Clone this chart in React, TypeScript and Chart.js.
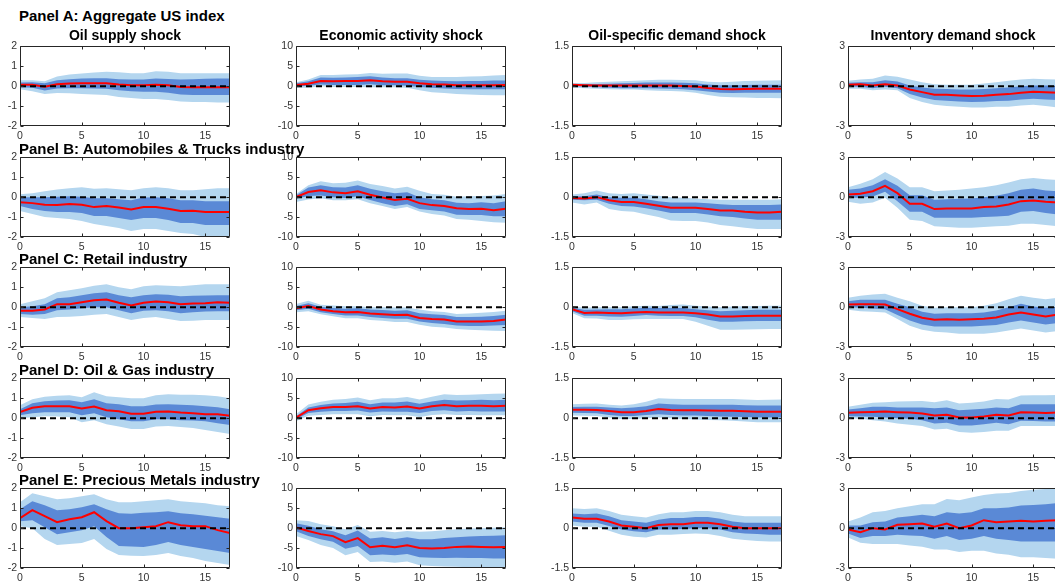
import React, { useEffect, useRef } from 'react';
import { Chart, registerables } from 'chart.js';

Chart.register(...registerables);

// ---------- labels and axes ----------
const panelTitles = [
  'Panel A: Aggregate US index',
  'Panel B: Automobiles & Trucks industry',
  'Panel C: Retail industry',
  'Panel D: Oil & Gas industry',
  'Panel E: Precious Metals industry',
];
const shockTitles = [
  'Oil supply shock',
  'Economic activity shock',
  'Oil-specific demand shock',
  'Inventory demand shock',
];
const horizons = [0, 1, 2, 3, 4, 5, 6, 7, 8, 9, 10, 11, 12, 13, 14, 15, 16, 17];
const xTicks = [0, 5, 10, 15];
const yLimits = [2, 10, 1.5, 3];
const yTicks = [
  [-2, -1, 0, 1, 2],
  [-10, -5, 0, 5, 10],
  [-1.5, 0, 1.5],
  [-3, 0, 3],
];

// ---------- Panel A: Aggregate US index ----------
const A1_mid = [0.07, 0.07, -0.03, 0.1, 0.13, 0.14, 0.15, 0.15, 0.08, 0.05, 0.05, 0.07, 0.04, -0.04, -0.05, -0.05, -0.05, -0.05];
const A1_innerHi = [0.18, 0.2, 0.15, 0.3, 0.35, 0.38, 0.4, 0.4, 0.35, 0.33, 0.33, 0.38, 0.36, 0.33, 0.35, 0.37, 0.38, 0.38];
const A1_innerLo = [-0.05, -0.08, -0.22, -0.12, -0.1, -0.11, -0.12, -0.13, -0.2, -0.25, -0.28, -0.28, -0.33, -0.42, -0.44, -0.45, -0.45, -0.45];
const A1_outerHi = [0.3, 0.3, 0.25, 0.48, 0.58, 0.63, 0.68, 0.72, 0.7, 0.65, 0.65, 0.75, 0.72, 0.65, 0.65, 0.65, 0.65, 0.65];
const A1_outerLo = [-0.15, -0.25, -0.4, -0.35, -0.36, -0.4, -0.42, -0.45, -0.55, -0.6, -0.65, -0.65, -0.7, -0.77, -0.8, -0.8, -0.82, -0.82];

const A2_mid = [0.3, 0.6, 1.3, 1.2, 1.3, 1.3, 1.5, 1.2, 1.1, 1.1, 0.7, 0.5, 0.4, 0.2, 0.2, 0.2, 0.2, 0.3];
const A2_innerHi = [0.7, 1.2, 2.2, 2.1, 2.2, 2.3, 2.5, 2.2, 2.0, 2.0, 1.6, 1.4, 1.3, 1.2, 1.3, 1.3, 1.4, 1.4];
const A2_innerLo = [-0.1, 0.1, 0.4, 0.3, 0.3, 0.3, 0.5, 0.2, 0.2, 0.1, -0.2, -0.4, -0.6, -0.7, -0.8, -0.8, -0.8, -0.8];
const A2_outerHi = [1.0, 1.7, 2.8, 2.8, 2.9, 3.0, 3.3, 3.1, 3.2, 3.2, 2.6, 2.3, 2.3, 2.3, 2.4, 2.5, 2.7, 2.8];
const A2_outerLo = [-0.4, -0.4, 0.0, -0.2, -0.2, -0.2, -0.3, -0.3, -0.3, -0.4, -1.0, -1.5, -1.7, -2.0, -2.1, -2.2, -2.3, -2.3];

const A3_mid = [0.05, 0.03, 0.02, 0.02, 0.02, 0.02, 0.02, 0.02, 0.02, 0.01, -0.01, -0.07, -0.11, -0.12, -0.11, -0.1, -0.1, -0.1];
const A3_innerHi = [0.08, 0.07, 0.08, 0.09, 0.11, 0.12, 0.14, 0.14, 0.14, 0.13, 0.11, 0.06, 0.03, 0.03, 0.04, 0.05, 0.05, 0.05];
const A3_innerLo = [0.0, -0.02, -0.04, -0.06, -0.08, -0.08, -0.08, -0.09, -0.1, -0.12, -0.15, -0.2, -0.25, -0.26, -0.25, -0.25, -0.25, -0.25];
const A3_outerHi = [0.12, 0.12, 0.15, 0.17, 0.18, 0.2, 0.22, 0.24, 0.24, 0.23, 0.22, 0.17, 0.15, 0.17, 0.19, 0.2, 0.21, 0.22];
const A3_outerLo = [-0.05, -0.08, -0.1, -0.12, -0.13, -0.13, -0.15, -0.17, -0.18, -0.2, -0.25, -0.33, -0.4, -0.42, -0.43, -0.45, -0.45, -0.46];

const A4_mid = [0.1, 0.15, 0.05, 0.15, 0.05, -0.25, -0.45, -0.65, -0.65, -0.7, -0.75, -0.72, -0.65, -0.6, -0.5, -0.42, -0.45, -0.5];
const A4_innerHi = [0.25, 0.3, 0.3, 0.45, 0.35, 0.05, -0.1, -0.2, -0.22, -0.25, -0.25, -0.22, -0.15, -0.1, 0.0, 0.05, 0.05, 0.05];
const A4_innerLo = [-0.05, -0.05, -0.15, -0.05, -0.15, -0.6, -0.85, -1.05, -1.1, -1.15, -1.2, -1.18, -1.12, -1.1, -1.0, -0.95, -1.0, -1.05];
const A4_outerHi = [0.4, 0.5, 0.55, 0.8, 0.7, 0.5, 0.3, 0.15, 0.1, 0.1, 0.1, 0.2, 0.3, 0.4, 0.5, 0.55, 0.52, 0.5];
const A4_outerLo = [-0.2, -0.2, -0.3, -0.25, -0.3, -0.9, -1.2, -1.4, -1.5, -1.55, -1.6, -1.6, -1.55, -1.55, -1.45, -1.4, -1.5, -1.6];

// ---------- Panel B: Automobiles & Trucks industry ----------
const B1_mid = [-0.25, -0.3, -0.38, -0.4, -0.35, -0.38, -0.5, -0.45, -0.52, -0.62, -0.5, -0.5, -0.58, -0.7, -0.68, -0.75, -0.75, -0.75];
const B1_innerHi = [0.0, 0.0, 0.0, 0.02, 0.05, 0.02, -0.05, -0.05, -0.1, -0.15, -0.02, 0.0, -0.05, -0.15, -0.15, -0.2, -0.2, -0.2];
const B1_innerLo = [-0.45, -0.6, -0.7, -0.75, -0.75, -0.8, -0.95, -0.95, -1.05, -1.15, -1.05, -1.05, -1.15, -1.3, -1.3, -1.4, -1.4, -1.4];
const B1_outerHi = [0.15, 0.2, 0.3, 0.38, 0.45, 0.5, 0.42, 0.45, 0.4, 0.35, 0.45, 0.5, 0.45, 0.35, 0.35, 0.4, 0.45, 0.45];
const B1_outerLo = [-0.7, -0.85, -1.0, -1.05, -1.1, -1.2, -1.35, -1.45, -1.55, -1.7, -1.6, -1.6, -1.7, -1.8, -1.85, -2.0, -2.0, -2.0];

const B2_mid = [0.0, 1.3, 1.7, 1.2, 1.0, 1.5, 0.6, -0.1, -0.7, -0.4, -1.5, -2.0, -2.2, -2.8, -3.0, -2.9, -3.3, -2.9];
const B2_innerHi = [0.5, 2.4, 3.0, 2.5, 2.4, 3.0, 2.1, 1.5, 1.0, 1.2, 0.0, -0.5, -0.8, -1.4, -1.5, -1.3, -1.5, -1.0];
const B2_innerLo = [-0.4, 0.3, 0.4, 0.0, -0.2, 0.2, -0.7, -1.5, -2.2, -1.8, -3.0, -3.3, -3.6, -4.4, -4.5, -4.5, -4.8, -4.8];
const B2_outerHi = [0.8, 3.0, 4.0, 3.5, 3.6, 4.2, 3.3, 2.8, 2.2, 2.6, 1.6, 0.8, 0.6, 0.1, 0.2, 0.3, 0.4, 0.8];
const B2_outerLo = [-1.2, -0.6, -0.3, -0.8, -0.8, -0.5, -1.5, -2.2, -3.0, -2.5, -3.6, -4.2, -4.6, -5.5, -5.7, -6.0, -6.3, -6.4];

const B3_mid = [-0.03, -0.05, 0.0, -0.12, -0.18, -0.18, -0.25, -0.32, -0.4, -0.4, -0.4, -0.45, -0.5, -0.5, -0.55, -0.58, -0.58, -0.55];
const B3_innerHi = [0.03, 0.03, 0.1, 0.0, -0.02, -0.02, -0.08, -0.15, -0.2, -0.2, -0.2, -0.23, -0.27, -0.3, -0.3, -0.3, -0.3, -0.28];
const B3_innerLo = [-0.1, -0.12, -0.1, -0.25, -0.33, -0.35, -0.42, -0.5, -0.6, -0.6, -0.6, -0.65, -0.72, -0.75, -0.8, -0.85, -0.85, -0.85];
const B3_outerHi = [0.1, 0.15, 0.25, 0.15, 0.12, 0.15, 0.1, 0.05, 0.0, -0.02, -0.05, -0.08, -0.1, -0.1, -0.1, -0.1, -0.1, -0.08];
const B3_outerLo = [-0.2, -0.28, -0.2, -0.45, -0.52, -0.55, -0.65, -0.75, -0.88, -0.9, -0.9, -0.95, -1.05, -1.1, -1.15, -1.2, -1.2, -1.2];

const B4_mid = [0.2, 0.25, 0.45, 0.85, 0.3, -0.5, -0.5, -0.9, -0.85, -0.85, -0.85, -0.75, -0.7, -0.55, -0.3, -0.25, -0.35, -0.4];
const B4_innerHi = [0.55, 0.65, 0.9, 1.35, 0.85, 0.15, 0.15, -0.2, -0.15, -0.12, -0.1, 0.0, 0.1, 0.3, 0.55, 0.65, 0.5, 0.45];
const B4_innerLo = [-0.05, -0.05, 0.05, 0.4, -0.3, -1.1, -1.1, -1.55, -1.55, -1.55, -1.55, -1.5, -1.45, -1.4, -1.1, -1.05, -1.2, -1.3];
const B4_outerHi = [0.75, 1.0, 1.35, 1.9, 1.4, 0.75, 0.75, 0.45, 0.5, 0.55, 0.65, 0.75, 0.9, 1.1, 1.35, 1.45, 1.35, 1.3];
const B4_outerLo = [-0.35, -0.5, -0.4, -0.05, -0.8, -1.7, -1.8, -2.2, -2.25, -2.3, -2.3, -2.25, -2.2, -2.15, -2.0, -2.0, -2.1, -2.2];

// ---------- Panel C: Retail industry ----------
const C1_mid = [-0.18, -0.18, -0.12, 0.15, 0.15, 0.25, 0.35, 0.38, 0.22, 0.08, 0.22, 0.28, 0.25, 0.15, 0.18, 0.2, 0.25, 0.22];
const C1_innerHi = [0.0, 0.05, 0.15, 0.45, 0.5, 0.6, 0.7, 0.75, 0.6, 0.5, 0.6, 0.65, 0.62, 0.55, 0.57, 0.58, 0.6, 0.6];
const C1_innerLo = [-0.35, -0.38, -0.35, -0.15, -0.12, -0.05, 0.0, 0.0, -0.15, -0.3, -0.18, -0.15, -0.2, -0.3, -0.25, -0.22, -0.2, -0.2];
const C1_outerHi = [0.15, 0.3, 0.45, 0.75, 0.85, 0.95, 1.08, 1.15, 1.0, 0.9, 1.05, 1.1, 1.08, 1.05, 1.1, 1.15, 1.15, 1.15];
const C1_outerLo = [-0.5, -0.55, -0.6, -0.5, -0.48, -0.45, -0.38, -0.35, -0.5, -0.65, -0.55, -0.5, -0.6, -0.7, -0.68, -0.65, -0.65, -0.65];

const C2_mid = [-0.3, 0.3, -0.6, -1.0, -1.3, -1.2, -1.6, -1.8, -2.0, -1.9, -2.7, -3.0, -3.1, -3.6, -3.6, -3.6, -3.5, -3.1];
const C2_innerHi = [0.3, 1.0, 0.1, -0.2, -0.4, -0.3, -0.6, -0.7, -0.9, -0.8, -1.5, -1.8, -2.0, -2.5, -2.5, -2.4, -2.2, -1.9];
const C2_innerLo = [-0.8, -0.4, -1.3, -1.7, -2.1, -2.1, -2.5, -2.7, -2.9, -2.9, -3.6, -4.0, -4.2, -4.6, -4.7, -4.7, -4.6, -4.5];
const C2_outerHi = [0.8, 1.6, 0.6, 0.4, 0.2, 0.2, 0.0, 0.0, -0.1, -0.1, -0.6, -1.0, -1.2, -1.7, -1.6, -1.4, -1.2, -0.9];
const C2_outerLo = [-1.3, -1.0, -1.8, -2.3, -2.8, -2.8, -3.2, -3.4, -3.7, -3.7, -4.4, -4.9, -5.1, -5.5, -5.7, -5.8, -5.9, -6.0];

const C3_mid = [-0.08, -0.22, -0.2, -0.22, -0.23, -0.2, -0.18, -0.2, -0.2, -0.2, -0.23, -0.28, -0.35, -0.35, -0.33, -0.32, -0.32, -0.32];
const C3_innerHi = [-0.02, -0.1, -0.09, -0.08, -0.08, -0.05, -0.02, -0.03, -0.03, -0.03, -0.08, -0.12, -0.15, -0.14, -0.12, -0.1, -0.1, -0.1];
const C3_innerLo = [-0.15, -0.32, -0.32, -0.35, -0.36, -0.33, -0.3, -0.32, -0.33, -0.33, -0.38, -0.47, -0.55, -0.55, -0.53, -0.52, -0.52, -0.52];
const C3_outerHi = [0.02, -0.02, 0.0, 0.0, 0.0, 0.03, 0.05, 0.04, 0.08, 0.1, 0.05, 0.02, 0.0, 0.02, 0.03, 0.04, 0.05, 0.05];
const C3_outerLo = [-0.22, -0.42, -0.43, -0.48, -0.48, -0.46, -0.45, -0.45, -0.45, -0.45, -0.55, -0.7, -0.85, -0.85, -0.84, -0.83, -0.82, -0.82];

const C4_mid = [0.2, 0.22, 0.22, 0.2, -0.15, -0.5, -0.8, -0.95, -0.92, -0.95, -0.92, -0.88, -0.78, -0.55, -0.4, -0.55, -0.7, -0.55];
const C4_innerHi = [0.45, 0.55, 0.55, 0.55, 0.25, 0.0, -0.35, -0.5, -0.45, -0.45, -0.45, -0.4, -0.25, 0.0, 0.25, 0.05, -0.05, 0.0];
const C4_innerLo = [0.0, -0.05, -0.1, -0.15, -0.6, -1.0, -1.3, -1.45, -1.45, -1.45, -1.45, -1.4, -1.35, -1.15, -1.0, -1.15, -1.3, -1.2];
const C4_outerHi = [0.7, 0.85, 0.95, 1.0, 0.7, 0.45, 0.1, -0.05, 0.0, 0.0, 0.0, 0.1, 0.3, 0.6, 0.85, 0.7, 0.6, 0.7];
const C4_outerLo = [-0.2, -0.3, -0.35, -0.4, -0.9, -1.4, -1.7, -1.85, -1.9, -2.0, -2.0, -2.0, -1.9, -1.75, -1.6, -1.75, -1.9, -1.8];

// ---------- Panel D: Oil & Gas industry ----------
const D1_mid = [0.3, 0.52, 0.6, 0.6, 0.6, 0.48, 0.58, 0.4, 0.35, 0.22, 0.22, 0.32, 0.33, 0.28, 0.25, 0.2, 0.2, 0.12];
const D1_innerHi = [0.45, 0.75, 0.85, 0.88, 0.9, 0.8, 0.95, 0.75, 0.7, 0.6, 0.6, 0.68, 0.7, 0.67, 0.65, 0.6, 0.55, 0.45];
const D1_innerLo = [0.15, 0.25, 0.3, 0.3, 0.3, 0.15, 0.25, 0.05, -0.05, -0.15, -0.15, -0.05, -0.05, -0.1, -0.12, -0.15, -0.25, -0.35];
const D1_outerHi = [0.65, 0.95, 1.08, 1.12, 1.15, 1.05, 1.3, 1.1, 1.05, 1.0, 1.0, 1.15, 1.2, 1.18, 1.17, 1.15, 1.1, 1.0];
const D1_outerLo = [0.0, 0.05, 0.1, 0.08, 0.05, -0.2, -0.1, -0.3, -0.42, -0.55, -0.55, -0.42, -0.4, -0.45, -0.5, -0.6, -0.7, -0.8];

const D2_mid = [0.1, 2.0, 2.5, 2.8, 2.8, 3.0, 2.4, 2.8, 2.7, 2.9, 2.4, 3.0, 3.3, 3.0, 3.1, 3.1, 3.0, 3.1];
const D2_innerHi = [0.5, 2.7, 3.3, 3.7, 3.8, 4.1, 3.5, 3.9, 3.9, 4.2, 3.6, 4.2, 4.6, 4.4, 4.5, 4.6, 4.5, 4.6];
const D2_innerLo = [-0.3, 1.3, 1.6, 1.8, 1.8, 1.9, 1.4, 1.7, 1.6, 1.6, 1.3, 1.8, 2.0, 1.7, 1.8, 1.7, 1.7, 1.7];
const D2_outerHi = [1.0, 3.4, 4.1, 4.6, 4.8, 5.2, 4.5, 5.0, 5.0, 5.3, 4.7, 5.4, 6.0, 5.8, 5.9, 6.0, 6.1, 6.2];
const D2_outerLo = [-0.8, 0.6, 0.8, 1.0, 1.0, 1.0, 0.5, 0.8, 0.7, 0.7, 0.3, 0.8, 1.0, 0.8, 0.8, 0.7, 0.7, 0.7];

const D3_mid = [0.32, 0.32, 0.31, 0.27, 0.22, 0.22, 0.27, 0.34, 0.31, 0.3, 0.3, 0.29, 0.28, 0.28, 0.26, 0.24, 0.24, 0.24];
const D3_innerHi = [0.42, 0.43, 0.43, 0.4, 0.37, 0.4, 0.45, 0.55, 0.52, 0.5, 0.5, 0.5, 0.5, 0.5, 0.49, 0.48, 0.48, 0.48];
const D3_innerLo = [0.2, 0.19, 0.18, 0.12, 0.08, 0.08, 0.12, 0.15, 0.12, 0.1, 0.1, 0.08, 0.06, 0.05, 0.04, 0.02, 0.02, 0.02];
const D3_outerHi = [0.52, 0.54, 0.55, 0.5, 0.48, 0.52, 0.62, 0.75, 0.73, 0.72, 0.72, 0.72, 0.72, 0.72, 0.7, 0.68, 0.69, 0.7];
const D3_outerLo = [0.1, 0.09, 0.08, 0.02, -0.03, -0.03, 0.0, 0.02, 0.0, -0.03, -0.05, -0.07, -0.08, -0.1, -0.13, -0.15, -0.15, -0.15];

const D4_mid = [0.4, 0.45, 0.47, 0.5, 0.45, 0.42, 0.35, 0.2, 0.25, 0.05, 0.05, 0.12, 0.25, 0.2, 0.45, 0.42, 0.38, 0.42];
const D4_innerHi = [0.65, 0.75, 0.85, 0.85, 0.8, 0.8, 0.8, 0.75, 0.8, 0.6, 0.65, 0.7, 0.8, 0.75, 1.05, 1.05, 1.05, 1.05];
const D4_innerLo = [0.15, 0.12, 0.1, 0.05, 0.0, -0.05, -0.15, -0.4, -0.35, -0.55, -0.55, -0.45, -0.35, -0.45, -0.2, -0.22, -0.25, -0.25];
const D4_outerHi = [0.85, 1.0, 1.15, 1.2, 1.25, 1.28, 1.3, 1.2, 1.35, 1.1, 1.15, 1.25, 1.45, 1.4, 1.7, 1.72, 1.73, 1.75];
const D4_outerLo = [0.0, -0.05, -0.15, -0.25, -0.4, -0.5, -0.6, -0.85, -0.8, -1.05, -1.1, -1.05, -0.95, -0.95, -0.6, -0.6, -0.6, -0.6];

// ---------- Panel E: Precious Metals industry ----------
const E1_mid = [0.5, 0.9, 0.6, 0.3, 0.45, 0.55, 0.8, 0.35, 0.0, 0.0, 0.05, 0.1, 0.3, 0.15, 0.1, 0.1, -0.1, -0.25];
const E1_innerHi = [0.95, 1.35, 1.15, 0.9, 0.95, 1.05, 1.2, 0.95, 0.75, 0.72, 0.77, 0.8, 0.85, 0.75, 0.7, 0.62, 0.55, 0.47];
const E1_innerLo = [0.35, 0.4, 0.05, -0.3, -0.2, -0.1, 0.1, -0.45, -0.9, -0.92, -0.95, -0.85, -0.7, -0.85, -0.95, -1.05, -1.15, -1.25];
const E1_outerHi = [1.3, 1.75, 1.6, 1.45, 1.5, 1.6, 1.7, 1.45, 1.3, 1.3, 1.35, 1.4, 1.45, 1.35, 1.3, 1.25, 1.15, 1.1];
const E1_outerLo = [0.1, 0.0, -0.55, -0.85, -0.8, -0.75, -0.55, -1.05, -1.35, -1.38, -1.4, -1.35, -1.25, -1.4, -1.5, -1.65, -1.75, -1.85];

const E2_mid = [0.2, -0.7, -1.5, -2.0, -3.5, -2.5, -4.8, -4.4, -4.8, -4.3, -5.0, -5.1, -5.0, -4.7, -4.6, -4.7, -4.8, -4.7];
const E2_innerHi = [1.2, 0.6, -0.3, -0.8, -1.8, -0.6, -2.6, -2.3, -2.7, -2.3, -2.8, -2.8, -2.5, -2.3, -2.1, -2.0, -1.9, -1.8];
const E2_innerLo = [-0.8, -2.0, -2.8, -3.4, -5.2, -4.5, -6.8, -6.6, -6.8, -6.5, -7.3, -7.4, -7.5, -7.4, -7.5, -7.5, -7.6, -7.6];
const E2_outerHi = [2.0, 1.8, 1.0, 0.5, -0.3, 0.8, -0.9, -0.7, -1.0, -0.7, -0.9, -0.8, -0.5, -0.3, -0.1, 0.0, 0.1, 0.2];
const E2_outerLo = [-2.0, -3.0, -4.2, -5.0, -6.8, -6.0, -8.5, -8.4, -8.7, -8.4, -9.3, -9.5, -9.6, -9.7, -9.8, -9.9, -10.2, -10.4];

const E3_mid = [0.4, 0.35, 0.35, 0.25, 0.1, 0.05, 0.0, 0.12, 0.15, 0.15, 0.2, 0.2, 0.15, 0.05, 0.0, 0.0, 0.0, 0.0];
const E3_innerHi = [0.55, 0.52, 0.55, 0.45, 0.3, 0.25, 0.2, 0.32, 0.38, 0.38, 0.42, 0.42, 0.35, 0.25, 0.2, 0.2, 0.2, 0.2];
const E3_innerLo = [0.25, 0.2, 0.2, 0.08, -0.05, -0.12, -0.15, -0.05, -0.05, -0.03, 0.0, 0.0, -0.05, -0.15, -0.2, -0.22, -0.25, -0.25];
const E3_outerHi = [0.75, 0.72, 0.75, 0.65, 0.5, 0.45, 0.4, 0.52, 0.6, 0.6, 0.65, 0.65, 0.6, 0.5, 0.45, 0.45, 0.45, 0.45];
const E3_outerLo = [0.1, 0.05, 0.05, -0.1, -0.25, -0.32, -0.35, -0.25, -0.25, -0.22, -0.2, -0.22, -0.3, -0.4, -0.45, -0.48, -0.5, -0.5];

const E4_mid = [-0.1, -0.3, 0.0, -0.1, 0.25, 0.3, 0.35, 0.1, 0.35, 0.0, 0.2, 0.6, 0.45, 0.5, 0.55, 0.5, 0.55, 0.6];
const E4_innerHi = [0.2, 0.2, 0.45, 0.5, 0.8, 0.9, 1.0, 0.9, 1.2, 1.1, 1.2, 1.5, 1.5, 1.55, 1.7, 1.75, 1.8, 1.9];
const E4_innerLo = [-0.4, -0.75, -0.6, -0.6, -0.5, -0.55, -0.6, -0.8, -0.6, -0.9, -0.8, -0.6, -0.8, -0.9, -1.0, -1.0, -1.0, -1.0];
const E4_outerHi = [0.5, 0.8, 1.2, 1.3, 1.5, 1.65, 1.8, 1.8, 2.2, 2.1, 2.3, 2.5, 2.6, 2.65, 2.8, 2.9, 2.95, 3.0];
const E4_outerLo = [-0.7, -1.1, -1.2, -1.2, -1.2, -1.3, -1.4, -1.6, -1.6, -1.8, -1.7, -1.7, -1.9, -2.0, -2.2, -2.2, -2.25, -2.3];

type Series = { mid: number[]; innerLo: number[]; innerHi: number[]; outerLo: number[]; outerHi: number[] };
const mk = (mid: number[], innerHi: number[], innerLo: number[], outerHi: number[], outerLo: number[]): Series => ({
  mid, innerHi, innerLo, outerHi, outerLo,
});

const grid: Series[][] = [
  [mk(A1_mid, A1_innerHi, A1_innerLo, A1_outerHi, A1_outerLo), mk(A2_mid, A2_innerHi, A2_innerLo, A2_outerHi, A2_outerLo), mk(A3_mid, A3_innerHi, A3_innerLo, A3_outerHi, A3_outerLo), mk(A4_mid, A4_innerHi, A4_innerLo, A4_outerHi, A4_outerLo)],
  [mk(B1_mid, B1_innerHi, B1_innerLo, B1_outerHi, B1_outerLo), mk(B2_mid, B2_innerHi, B2_innerLo, B2_outerHi, B2_outerLo), mk(B3_mid, B3_innerHi, B3_innerLo, B3_outerHi, B3_outerLo), mk(B4_mid, B4_innerHi, B4_innerLo, B4_outerHi, B4_outerLo)],
  [mk(C1_mid, C1_innerHi, C1_innerLo, C1_outerHi, C1_outerLo), mk(C2_mid, C2_innerHi, C2_innerLo, C2_outerHi, C2_outerLo), mk(C3_mid, C3_innerHi, C3_innerLo, C3_outerHi, C3_outerLo), mk(C4_mid, C4_innerHi, C4_innerLo, C4_outerHi, C4_outerLo)],
  [mk(D1_mid, D1_innerHi, D1_innerLo, D1_outerHi, D1_outerLo), mk(D2_mid, D2_innerHi, D2_innerLo, D2_outerHi, D2_outerLo), mk(D3_mid, D3_innerHi, D3_innerLo, D3_outerHi, D3_outerLo), mk(D4_mid, D4_innerHi, D4_innerLo, D4_outerHi, D4_outerLo)],
  [mk(E1_mid, E1_innerHi, E1_innerLo, E1_outerHi, E1_outerLo), mk(E2_mid, E2_innerHi, E2_innerLo, E2_outerHi, E2_outerLo), mk(E3_mid, E3_innerHi, E3_innerLo, E3_outerHi, E3_outerLo), mk(E4_mid, E4_innerHi, E4_innerLo, E4_outerHi, E4_outerLo)],
];

// ---------- look ----------
const FONT = '"Liberation Sans", Arial, Helvetica, sans-serif';
const LIGHT_BAND = '#b4d6ef';
const DARK_BAND = '#5a89d6';
const IRF_RED = '#ff0000';
const AXIS_COLOR = '#262626';
const TICK_COLOR = '#333333';

const colLeft = [20, 296, 572, 848];
const rowTop = [45, 156, 266, 377, 487];
const PLOT_W = 210;
const PLOT_H = 81;
const AXIS_W = 30;
const AXIS_H = 20;
const PAD_T = 8;
const PAD_R = 6;

// Box around the plotting area with inward tick marks on all four sides.
const axesBox = {
  id: 'axesBox',
  afterDatasetsDraw(chart: any) {
    const { ctx, chartArea: a } = chart;
    const xs = chart.scales.x;
    const ys = chart.scales.y;
    const L = Math.round(a.left) + 0.5;
    const R = Math.round(a.right) - 0.5;
    const T = Math.round(a.top) + 0.5;
    const B = Math.round(a.bottom) - 0.5;
    const len = 3;
    ctx.save();
    ctx.strokeStyle = AXIS_COLOR;
    ctx.lineWidth = 1;
    ctx.setLineDash([]);
    ctx.beginPath();
    ctx.rect(L, T, R - L, B - T);
    for (const t of xs.ticks) {
      const px = Math.round(xs.getPixelForValue(t.value)) + 0.5;
      ctx.moveTo(px, B);
      ctx.lineTo(px, B - len);
      ctx.moveTo(px, T);
      ctx.lineTo(px, T + len);
    }
    for (const t of ys.ticks) {
      const py = Math.round(ys.getPixelForValue(t.value)) + 0.5;
      ctx.moveTo(L, py);
      ctx.lineTo(L + len, py);
      ctx.moveTo(R, py);
      ctx.lineTo(R - len, py);
    }
    ctx.stroke();
    ctx.restore();
  },
};

const toPoints = (values: number[]) => values.map((v, i) => ({ x: horizons[i], y: v }));

function IrfPanel({ series, col, left, top }: { series: Series; col: number; left: number; top: number }) {
  const ref = useRef<HTMLCanvasElement>(null);

  useEffect(() => {
    if (!ref.current) return;
    const lim = yLimits[col];
    const hidden = 'rgba(0,0,0,0)';
    const band = (values: number[], fill: number | false, color: string, order: number) => ({
      data: toPoints(values),
      fill,
      backgroundColor: color,
      borderColor: hidden,
      borderWidth: 0,
      pointRadius: 0,
      tension: 0,
      order,
    });
    const chart = new Chart(ref.current, {
      type: 'line',
      data: {
        datasets: [
          band(series.outerHi, 1, LIGHT_BAND, 4),
          band(series.outerLo, false, hidden, 5),
          band(series.innerHi, 3, DARK_BAND, 2),
          band(series.innerLo, false, hidden, 3),
          {
            data: toPoints(series.mid),
            fill: false,
            borderColor: IRF_RED,
            borderWidth: 2,
            pointRadius: 0,
            tension: 0,
            order: 1,
          },
          {
            data: [
              { x: horizons[0], y: 0 },
              { x: horizons[horizons.length - 1], y: 0 },
            ],
            fill: false,
            borderColor: '#000000',
            borderWidth: 2,
            borderDash: [6, 4],
            pointRadius: 0,
            order: 0,
          },
        ] as any,
      },
      options: {
        animation: false,
        responsive: false,
        maintainAspectRatio: false,
        events: [],
        layout: { padding: { top: PAD_T, right: PAD_R, left: 0, bottom: 0 } },
        plugins: {
          legend: { display: false },
          tooltip: { enabled: false },
          title: { display: false },
        },
        scales: {
          x: {
            type: 'linear',
            min: 0,
            max: 17,
            grid: { display: false, drawTicks: false },
            border: { display: false },
            afterBuildTicks: (s: any) => {
              s.ticks = xTicks.map((v) => ({ value: v }));
            },
            afterFit: (s: any) => {
              s.height = AXIS_H;
            },
            ticks: {
              color: TICK_COLOR,
              font: { family: FONT, size: 10.5 },
              padding: 4,
              maxRotation: 0,
              autoSkip: false,
              callback: (v: any) => String(v),
            },
          },
          y: {
            type: 'linear',
            min: -lim,
            max: lim,
            grid: { display: false, drawTicks: false },
            border: { display: false },
            afterBuildTicks: (s: any) => {
              s.ticks = yTicks[col].map((v) => ({ value: v }));
            },
            afterFit: (s: any) => {
              s.width = AXIS_W;
            },
            ticks: {
              color: TICK_COLOR,
              font: { family: FONT, size: 10.5 },
              padding: 3,
              autoSkip: false,
              callback: (v: any) => String(v),
            },
          },
        },
      } as any,
      plugins: [axesBox],
    });
    return () => chart.destroy();
  }, [series, col]);

  return (
    <canvas
      ref={ref}
      width={PLOT_W + AXIS_W + PAD_R}
      height={PLOT_H + PAD_T + AXIS_H}
      style={{ position: 'absolute', left: left - AXIS_W, top: top - PAD_T }}
    />
  );
}

const panelTitleTop = [8, 141, 251, 362, 472];
const shockTitleTop = 27.5;

export default function App() {
  return (
    <div
      style={{
        position: 'absolute',
        left: 0,
        top: 0,
        width: 1055,
        height: 582,
        overflow: 'hidden',
        background: '#ffffff',
        fontFamily: FONT,
      }}
    >
      {grid.map((row, r) =>
        row.map((series, c) => (
          <IrfPanel key={`${r}-${c}`} series={series} col={c} left={colLeft[c]} top={rowTop[r]} />
        ))
      )}
      {shockTitles.map((t, c) => (
        <div
          key={t}
          style={{
            position: 'absolute',
            left: colLeft[c] - 40,
            width: PLOT_W + 80,
            top: shockTitleTop,
            textAlign: 'center',
            fontSize: 14,
            lineHeight: '14px',
            fontWeight: 'bold',
            color: '#000',
            whiteSpace: 'nowrap',
          }}
        >
          {t}
        </div>
      ))}
      {panelTitles.map((t, r) => (
        <div
          key={t}
          style={{
            position: 'absolute',
            left: 19,
            top: panelTitleTop[r],
            fontSize: 15,
            lineHeight: '15px',
            fontWeight: 'bold',
            color: '#000',
            whiteSpace: 'nowrap',
          }}
        >
          {t}
        </div>
      ))}
    </div>
  );
}
